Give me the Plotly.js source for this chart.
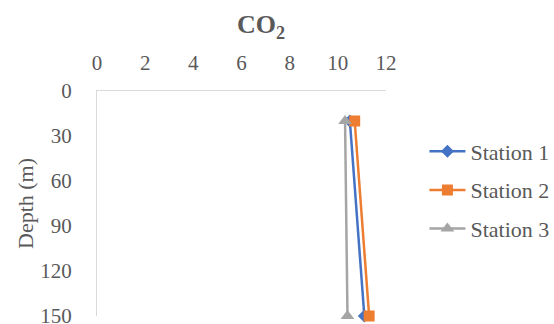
<!DOCTYPE html>
<html>
<head>
<meta charset="utf-8">
<script src="https://cdn.plot.ly/plotly-3.0.1.min.js"></script>
<style>html,body{margin:0;padding:0;background:#fff;}#chart{width:554px;height:324px;}</style>
</head>
<body>
<div id="chart"></div>
<script>
var depths = [20, 150];
var station1 = [10.5, 11.1];
var station2 = [10.7, 11.3];
var station3 = [10.3, 10.4];
var seriesNames = ['Station 1', 'Station 2', 'Station 3'];
var xTicks = [0, 2, 4, 6, 8, 10, 12];
var yTicks = [0, 30, 60, 90, 120, 150];

var font = 'Liberation Serif';
var grey = '#595959';

function tr(vals, name, color, symbol, size, group) {
  return {
    x: vals, y: depths, name: name, type: 'scatter', mode: 'lines+markers',
    legendgroup: group,
    line: {color: color, width: 2.5},
    marker: {color: color, symbol: symbol, size: size},
    cliponaxis: false
  };
}

var data = [
  tr(station1, seriesNames[0], '#4472C4', 'diamond', 10, 'a'),
  tr(station2, seriesNames[1], '#ED7D31', 'square', 11, 'b'),
  tr(station3, seriesNames[2], '#A5A5A5', 'triangle-up', 12, 'c')
];

var layout = {
  width: 554, height: 324,
  margin: {l: 97, r: 168, t: 91, b: 8, autoexpand: false},
  paper_bgcolor: '#fff', plot_bgcolor: '#fff',
  font: {family: font, color: grey, size: 21},
  title: {text: '<b>CO<sub>2</sub></b>', x: 0.471, xanchor: 'center', y: 0.926, yanchor: 'middle', yref: 'container',
          font: {family: font, size: 26, color: grey}},
  showlegend: true,
  legend: {x: 1.133, xanchor: 'left', y: 0.56, yanchor: 'middle', traceorder: 'grouped', tracegroupgap: 7,
           itemwidth: 36,
           font: {family: font, size: 22, color: grey}, bgcolor: 'rgba(0,0,0,0)'},
  xaxis: {
    side: 'top', range: [0, 12], tickvals: xTicks, ticktext: xTicks.map(String),
    showgrid: false, zeroline: false, showline: true, linecolor: '#d9d9d9', linewidth: 1,
    ticks: '', ticklabelstandoff: 12, ticklabeloverflow: 'allow',
    tickfont: {family: font, size: 21, color: grey}, fixedrange: true
  },
  yaxis: {
    range: [150, 0], tickvals: yTicks, ticktext: yTicks.map(String),
    showgrid: false, zeroline: false, showline: true, linecolor: '#d9d9d9', linewidth: 1,
    ticks: '', ticklabelstandoff: 20, ticklabeloverflow: 'allow',
    tickfont: {family: font, size: 21, color: grey},
    title: {text: 'Depth (m)', font: {family: font, size: 22, color: grey}, standoff: 0}, fixedrange: true
  }
};

Plotly.newPlot('chart', data, layout, {displayModeBar: false, staticPlot: true});
</script>
</body>
</html>
